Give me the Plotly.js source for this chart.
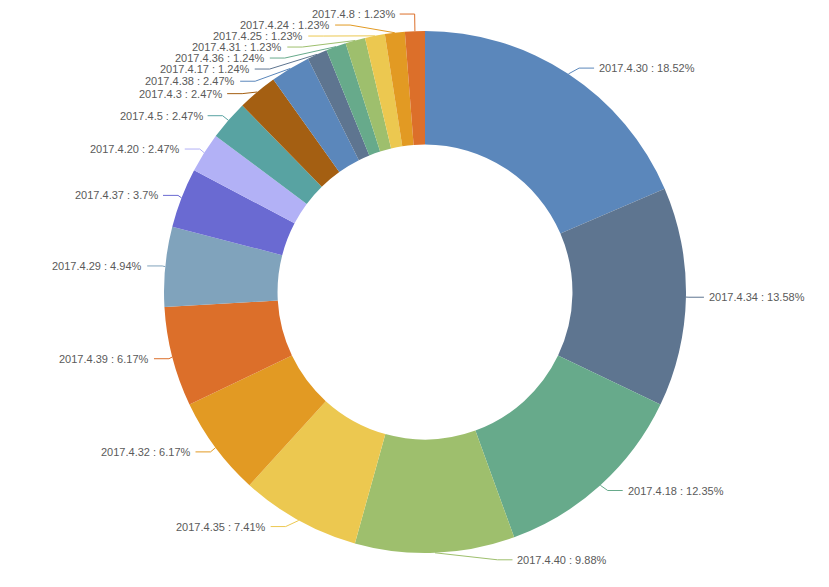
<!DOCTYPE html>
<html>
<head>
<meta charset="utf-8">
<script src="https://cdn.plot.ly/plotly-3.0.1.min.js"></script>
<style>
  html, body { margin: 0; padding: 0; background: #fff; }
  #chart { width: 829px; height: 587px; }
</style>
</head>
<body>
<div id="chart"></div>
<script>
// fechas y porcentajes (en sentido horario desde arriba)
var fechas = ['2017.4.30', '2017.4.34', '2017.4.18', '2017.4.40', '2017.4.35', '2017.4.32',
  '2017.4.39', '2017.4.29', '2017.4.37', '2017.4.20', '2017.4.5', '2017.4.3', '2017.4.38',
  '2017.4.17', '2017.4.36', '2017.4.31', '2017.4.25', '2017.4.24', '2017.4.8'];
var porcentajes = [18.52, 13.58, 12.35, 9.88, 7.41, 6.17, 6.17, 4.94, 3.7, 2.47, 2.47, 2.47, 2.47,
  1.24, 1.24, 1.23, 1.23, 1.23, 1.23];

var paleta = ['#5b87bb', '#5e7590', '#67aa8b', '#9ebf6d', '#ecc850', '#e29a23',
  '#dc6f2a', '#80a3bc', '#6a6ad2', '#b2b1f6', '#58a3a2', '#a45f12'];
var colores = [];
for (let i = 0; i < fechas.length; i++) {
  colores[i] = paleta[i % paleta.length];
}

/* medidas del lienzo */
var ancho = 829, alto = 587;
var margen = { l: 164, r: 143, t: 31, b: 34 };
var lado = alto - margen.t - margen.b;        // 522
var cx = margen.l + lado / 2;
var cy = margen.t + lado / 2;
var radio = lado / 2;
var largo1 = 7, largo2 = 15, sep = 4, altoTexto = 11;

// pixeles -> coordenadas paper
function px(x) { return (x - margen.l) / lado; }
function py(y) { return (alto - margen.b - y) / lado; }

/* ETIQUETAS CON LINEA GUIA (acomodo parecido al de echarts) */
var total = 0;
for (let i = 0; i < porcentajes.length; i++) { total += porcentajes[i]; }

var etiquetas = [];
var acum = 0;
for (let i = 0; i < porcentajes.length; i++) {
  var ang = (acum + porcentajes[i] / 2) / total * 2 * Math.PI;
  acum += porcentajes[i];
  var s = Math.sin(ang), c = Math.cos(ang);
  var dir = s < 0 ? -1 : 1;
  var x2 = cx + (radio + largo1) * s;
  var y2 = cy - (radio + largo1) * c;
  etiquetas.push({
    i: i, dir: dir,
    x1: cx + radio * s, y1: cy - radio * c,
    x: x2 + dir * (largo2 + sep), y: y2, height: altoTexto
  });
}

function acomodarLado(lista, dir) {
  lista.sort(function (a, b) { return a.y - b.y; });
  function bajar(ini, fin, delta) {
    for (let j = ini; j < fin; j++) {
      if (lista[j].y + delta > alto) break;
      lista[j].y += delta;
      if (j > ini && j + 1 < fin && lista[j + 1].y > lista[j].y + lista[j].height) {
        subir(j, delta / 2);
        return;
      }
    }
    subir(fin - 1, delta / 2);
  }
  function subir(fin, delta) {
    for (let j = fin; j >= 0; j--) {
      if (lista[j].y - delta < 0) break;
      lista[j].y -= delta;
      if (j > 0 && lista[j].y > lista[j - 1].y + lista[j - 1].height) break;
    }
  }
  function cambiarX(sub, abajo) {
    var ultimo = abajo ? Number.MAX_VALUE : 0;
    for (let k = 0; k < sub.length; k++) {
      var dy = Math.abs(sub[k].y - cy);
      var R = radio + largo1 + largo2;
      var dx = dy < radio + largo1 ? Math.sqrt(R * R - dy * dy) : Math.abs(sub[k].x - cx);
      if (abajo && dx >= ultimo) dx = ultimo - 10;
      if (!abajo && dx <= ultimo) dx = ultimo + 10;
      sub[k].x = cx + dx * dir;
      ultimo = dx;
    }
  }
  var ultimoY = 0;
  for (let k = 0; k < lista.length; k++) {
    var d = lista[k].y - ultimoY;
    if (d < 0) bajar(k, lista.length, -d);
    ultimoY = lista[k].y + lista[k].height;
  }
  if (alto - ultimoY < 0) subir(lista.length - 1, ultimoY - alto);
  var arriba = [], abajo = [];
  for (let k = 0; k < lista.length; k++) {
    if (lista[k].y >= cy) abajo.push(lista[k]); else arriba.push(lista[k]);
  }
  cambiarX(arriba, false);
  cambiarX(abajo, true);
}

acomodarLado(etiquetas.filter(function (e) { return e.dir < 0; }), -1);
acomodarLado(etiquetas.filter(function (e) { return e.dir > 0; }), 1);

var formas = [];
var notas = [];
etiquetas.forEach(function (e) {
  var x3 = e.x - e.dir * sep;
  var x2 = x3 - e.dir * largo2;
  formas.push({
    type: 'path', xref: 'paper', yref: 'paper',
    path: 'M ' + px(e.x1) + ',' + py(e.y1) + ' L ' + px(x2) + ',' + py(e.y) + ' L ' + px(x3) + ',' + py(e.y),
    line: { color: colores[e.i], width: 1 }
  });
  notas.push({
    xref: 'paper', yref: 'paper', x: px(e.x), y: py(e.y),
    xanchor: e.dir < 0 ? 'right' : 'left', yanchor: 'middle',
    showarrow: false, borderpad: 0,
    text: fechas[e.i] + ' : ' + porcentajes[e.i] + '%',
    font: { family: 'Liberation Sans, Arial, sans-serif', size: 11, color: '#5a5a5a' }
  });
});

var dona = {
  type: 'pie',
  labels: fechas,
  values: porcentajes,
  hole: 0.565,
  sort: false,
  direction: 'clockwise',
  rotation: 0,
  marker: { colors: colores, line: { width: 0 } },
  textinfo: 'none',
  showlegend: false,
  hoverinfo: 'label+percent'
};

var layout = {
  width: ancho,
  height: alto,
  margin: margen,
  paper_bgcolor: '#fff',
  showlegend: false,
  shapes: formas,
  annotations: notas
};

Plotly.newPlot('chart', [dona], layout, { displayModeBar: false, staticPlot: true });
</script>
</body>
</html>
